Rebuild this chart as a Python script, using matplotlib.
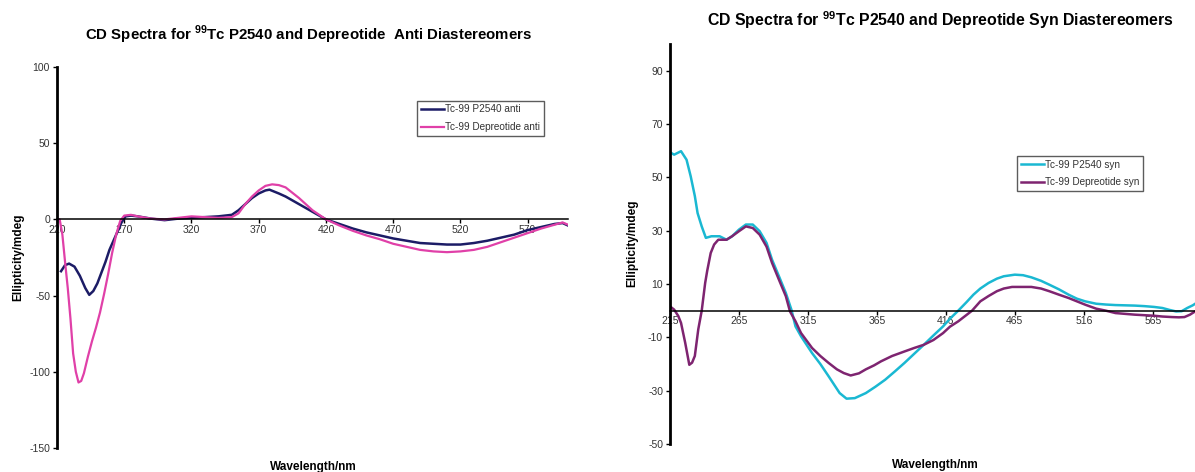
import matplotlib
matplotlib.use("Agg")
import matplotlib.pyplot as plt
from matplotlib import font_manager

# pick a narrow Arial-like face if it is there
names = {f.name for f in font_manager.fontManager.ttflist}
FONT = "Liberation Sans Narrow" if "Liberation Sans Narrow" in names else "Liberation Sans"
plt.rcParams["font.family"] = [FONT, "DejaVu Sans"]
plt.rcParams["mathtext.fontset"] = "custom"
plt.rcParams["mathtext.bf"] = FONT + ":bold"
plt.rcParams["mathtext.rm"] = FONT
plt.rcParams["axes.unicode_minus"] = False

# ---- anti diastereomers (left) ----
anti_p2540_wl = [223, 226, 229, 233, 237, 241, 244, 247, 250, 253, 256, 259, 262, 265, 268, 271,
                 275, 280, 290, 300, 310, 320, 330, 340, 350, 355, 360, 365, 370, 375, 378, 385,
                 390, 400, 410, 420, 430, 440, 450, 460, 470, 480, 490, 500, 510, 520, 530, 540,
                 550, 560, 570, 580, 590, 596, 600]
anti_p2540 = [-34, -30, -29, -31, -37, -45, -49.5, -47, -42, -35, -28, -20, -14, -8, -2, 2,
              2.5, 2, 0.5, -0.5, 0.5, 1, 1.5, 2, 3, 6, 10, 14, 17, 19, 19.5, 17,
              15, 10, 5, 0, -3, -6, -8.5, -10.5, -12.5, -14, -15.5, -16, -16.5, -16.5, -15.5, -14,
              -12, -10, -7, -5, -3, -2.4, -4]

anti_depr_wl = [220, 222, 224, 226, 228, 230, 232, 234, 236, 238, 240, 243, 246, 249, 252, 255,
                258, 261, 264, 267, 270, 275, 280, 290, 300, 310, 320, 330, 340, 350, 355, 360,
                365, 370, 375, 380, 385, 390, 400, 410, 420, 430, 440, 450, 460, 470, 480, 490,
                500, 510, 520, 530, 540, 550, 560, 570, 580, 590, 596, 600]
anti_depr = [0, 0, -10, -28, -45, -65, -88, -100, -107, -106, -101, -90, -80, -71, -61, -49,
             -36, -22, -10, -1, 2.5, 3, 2, 0.5, 0, 1, 2, 1.5, 1, 1.5, 4, 10,
             15, 19, 22, 23, 22.5, 21, 14, 6, 0, -4, -7.5, -10.5, -13, -16, -18, -20,
             -21, -21.5, -21, -20, -18, -15, -12, -9, -6, -3.5, -2, -3.5]

anti_ticks = [220, 270, 320, 370, 420, 470, 520, 570]

# ---- syn diastereomers (right) ----
syn_p2540_wl = [215, 218, 223, 227, 230, 233, 235, 238, 241, 245, 251, 256, 260, 265, 270, 275,
                280, 285, 289, 294, 299, 303, 306, 310, 318, 324, 330, 338, 343, 349, 357, 364,
                371, 378, 385, 392, 399, 406, 413, 418, 424, 430, 435, 440, 446, 452, 457, 465,
                471, 477, 484, 490, 497, 504, 510, 516, 524, 531, 538, 545, 552, 559, 566, 572,
                577, 582, 586, 590, 594, 597]
syn_p2540 = [59.4, 58.5, 59.8, 56.6, 50.4, 43, 36.6, 31.6, 27.3, 27.9, 27.9, 26.6, 27.9, 30.4, 32.3, 32.3,
             29.8, 25.4, 19.1, 12.9, 6.6, 0.4, -5.9, -9.6, -15.9, -20, -24.6, -30.9, -33, -32.8, -30.9, -28.5,
             -25.9, -22.8, -19.6, -16.2, -12.8, -9.3, -5.9, -3, 0, 3.2, 6, 8.3, 10.4, 12, 12.9, 13.5,
             13.3, 12.5, 11.2, 9.75, 8, 6, 4.5, 3.5, 2.6, 2.3, 2.1, 2, 1.9, 1.7, 1.4, 1,
             0.3, -0.3, -0.2, 1, 2, 3]

syn_depr_wl = [215, 218, 221, 223, 226, 229, 231, 233, 235.5, 238, 240.5, 242, 244.5, 247, 250, 256,
               260, 265, 270, 275, 280, 285, 289, 294, 299, 302, 306, 310, 318, 324, 330, 336,
               341, 346, 352, 357, 363, 368, 376, 385, 392, 399, 406, 413, 418, 424, 429, 434,
               440, 446, 452, 457, 463, 470, 477, 484, 490, 497, 504, 510, 516, 524, 531, 538,
               545, 552, 559, 566, 572, 579, 584, 588, 592, 596, 598]
syn_depr = [1.6, 0.4, -2, -4.6, -12, -20.3, -19.5, -17, -7, 0, 10.4, 15, 21.6, 24.8, 26.6, 26.6,
            27.9, 29.8, 31.6, 31, 28.5, 24, 17.9, 11.6, 5.4, -0.3, -4, -8.4, -14, -17, -19.6, -22,
            -23.4, -24.3, -23.5, -22, -20.5, -19, -17, -15.3, -14, -12.8, -11, -8.4, -6, -4, -2, 0,
            3.5, 5.5, 7.3, 8.3, 8.9, 8.9, 8.9, 8.3, 7.3, 6, 4.75, 3.5, 2.25, 0.75, 0, -0.9,
            -1.2, -1.5, -1.7, -1.9, -2.2, -2.4, -2.5, -2.4, -1.5, -0.2, 0]

syn_ticks = [215, 265, 315, 365, 415, 465, 515, 565]
syn_ticklabels = ["215", "265", "315", "365", "416", "465", "516", "565"]

W, H = 1195, 472
fig = plt.figure(figsize=(W / 100, H / 100), dpi=100)


def px_axes(x0, x1, ytop, ybot):
    return fig.add_axes([x0 / W, 1 - ybot / H, (x1 - x0) / W, (ybot - ytop) / H])


def style(ax):
    for s in ("top", "right"):
        ax.spines[s].set_visible(False)
    ax.spines["left"].set_linewidth(2)
    ax.spines["bottom"].set_position(("data", 0))
    ax.spines["bottom"].set_linewidth(1.1)
    ax.tick_params(axis="both", direction="out", length=3, width=1, labelsize=7.5,
                   labelcolor="#333333", pad=2)
    ax.tick_params(axis="x", pad=1)
    ax.set_facecolor("none")


# left chart
ax1 = px_axes(57, 568, 67, 448)
ax1.plot(anti_p2540_wl, anti_p2540, color="#1c1c66", lw=1.8, label="Tc-99 P2540 anti")
ax1.plot(anti_depr_wl, anti_depr, color="#e040a8", lw=1.6, label="Tc-99 Depreotide anti")
ax1.set_xlim(220, 600)
ax1.set_ylim(-150, 100)
ax1.set_yticks([-150, -100, -50, 0, 50, 100])
ax1.set_xticks(anti_ticks)
style(ax1)

# right chart
ax2 = px_axes(670, 1201, 44, 444)
ax2.plot(syn_p2540_wl, syn_p2540, color="#1ab8d2", lw=1.8, label="Tc-99 P2540 syn")
ax2.plot(syn_depr_wl, syn_depr, color="#7e2470", lw=1.8, label="Tc-99 Depreotide syn")
ax2.set_xlim(215, 600)
ax2.set_ylim(-50, 100)
ax2.set_yticks([-50, -30, -10, 10, 30, 50, 70, 90])
ax2.set_xticks(syn_ticks)
ax2.set_xticklabels(syn_ticklabels)
style(ax2)

# titles and axis labels
t1 = r"CD Spectra for $^{\mathbf{99}}$Tc P2540 and Depreotide  Anti Diastereomers"
t2 = r"CD Spectra for $^{\mathbf{99}}$Tc P2540 and Depreotide Syn Diastereomers"
fig.text(309 / W, 1 - 35 / H, t1, ha="center", va="center", fontsize=10.8, fontweight="bold")
fig.text(940 / W, 1 - 20 / H, t2, ha="center", va="center", fontsize=11.4, fontweight="bold")
fig.text(18 / W, 1 - 257 / H, "Ellipticity/mdeg", rotation=90, ha="center", va="center",
         fontsize=8.5, fontweight="bold")
fig.text(632 / W, 1 - 243 / H, "Ellipticity/mdeg", rotation=90, ha="center", va="center",
         fontsize=8.5, fontweight="bold")
fig.text(313 / W, 1 - 467 / H, "Wavelength/nm", ha="center", va="center",
         fontsize=8.5, fontweight="bold")
fig.text(935 / W, 1 - 465 / H, "Wavelength/nm", ha="center", va="center",
         fontsize=8.5, fontweight="bold")

# legends
for ax, (lx, ly) in ((ax1, (417, 101)), (ax2, (1017, 156))):
    leg = ax.legend(loc="upper left", bbox_to_anchor=(lx / W, 1 - ly / H),
                    bbox_transform=fig.transFigure, fontsize=7.2, frameon=True,
                    fancybox=False, handlelength=2.3, handletextpad=0.15,
                    borderpad=0.35, labelspacing=0.75, borderaxespad=0)
    leg.get_frame().set_edgecolor("#333333")
    leg.get_frame().set_linewidth(1)
    for t in leg.get_texts():
        t.set_color("#333333")

fig.savefig("out.png", dpi=100)
